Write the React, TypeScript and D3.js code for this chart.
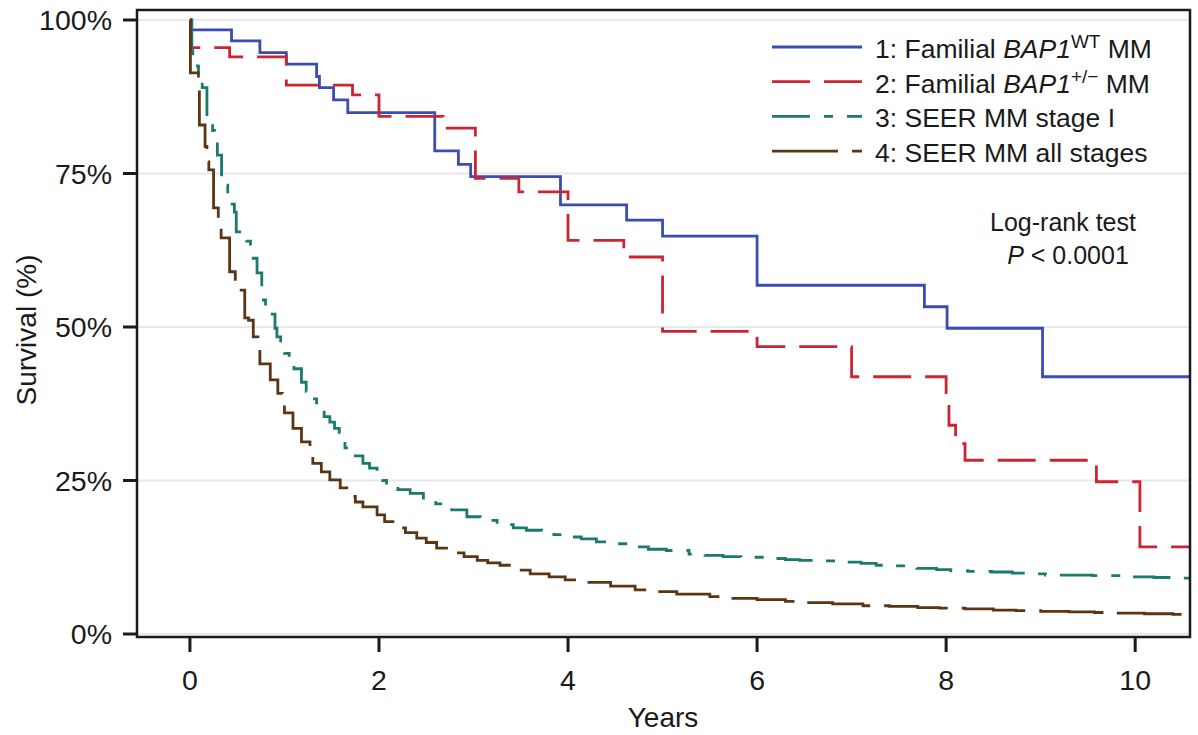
import React from "react";
import * as d3 from "d3";

const W = 1198;
const H = 735;

const xTicks = [0, 2, 4, 6, 8, 10];
const yTicks = [0, 0.25, 0.5, 0.75, 1];
const yTickLabels = ["0%", "25%", "50%", "75%", "100%"];

// [time (years), survival after the drop]
const blueEvents: [number, number][] = [
  [0.01, 0.984], [0.44, 0.966], [0.74, 0.947], [1.02, 0.928], [1.34, 0.908], [1.37, 0.89],
  [1.52, 0.87], [1.67, 0.849], [2.59, 0.787], [2.84, 0.765], [2.97, 0.745], [3.92, 0.699],
  [4.62, 0.674], [5.0, 0.648], [6.0, 0.568], [7.77, 0.533], [8.01, 0.498], [9.02, 0.419],
];

const redEvents: [number, number][] = [
  [0.01, 0.955], [0.42, 0.94], [1.02, 0.894], [1.72, 0.878], [2.0, 0.843], [2.68, 0.824],
  [3.02, 0.742], [3.48, 0.72], [4.0, 0.641], [4.59, 0.614], [5.0, 0.493], [6.0, 0.468],
  [7.0, 0.419], [8.0, 0.393], [8.03, 0.34], [8.1, 0.31], [8.2, 0.283], [9.59, 0.248],
  [10.05, 0.142],
];

const tealEvents: [number, number][] = [
  [0.02, 0.95], [0.03, 0.94], [0.08, 0.925], [0.09, 0.91], [0.13, 0.89], [0.18, 0.834],
  [0.24, 0.82], [0.26, 0.807], [0.29, 0.78], [0.335, 0.731], [0.4, 0.71], [0.42, 0.7],
  [0.47, 0.687], [0.49, 0.655], [0.6, 0.64], [0.64, 0.625], [0.67, 0.612], [0.71, 0.588],
  [0.76, 0.544], [0.8, 0.53], [0.85, 0.521], [0.9, 0.498], [0.92, 0.484], [0.96, 0.47],
  [1.0, 0.457], [1.05, 0.445], [1.1, 0.432], [1.18, 0.41], [1.23, 0.395], [1.28, 0.383],
  [1.34, 0.368], [1.42, 0.354], [1.48, 0.345], [1.53, 0.335], [1.58, 0.32], [1.64, 0.303],
  [1.75, 0.29], [1.83, 0.278], [1.9, 0.27], [1.98, 0.262], [2.04, 0.25], [2.08, 0.24],
  [2.2, 0.235], [2.33, 0.229], [2.47, 0.218], [2.6, 0.212], [2.77, 0.202], [2.93, 0.191],
  [3.07, 0.185], [3.25, 0.178], [3.42, 0.173], [3.56, 0.169], [3.72, 0.166], [3.85, 0.162],
  [4.0, 0.158], [4.14, 0.155], [4.3, 0.15], [4.52, 0.147], [4.7, 0.142], [4.85, 0.138],
  [5.04, 0.136], [5.28, 0.13], [5.45, 0.128], [5.64, 0.126], [5.83, 0.125], [6.09, 0.123],
  [6.3, 0.121], [6.45, 0.12], [6.64, 0.119], [6.93, 0.117], [7.1, 0.115], [7.26, 0.112],
  [7.45, 0.111], [7.69, 0.107], [7.9, 0.105], [8.05, 0.103], [8.23, 0.102], [8.48, 0.101],
  [8.7, 0.099], [8.86, 0.098], [9.05, 0.096], [9.55, 0.095], [9.86, 0.093], [10.2, 0.092],
  [10.45, 0.091],
];

const brownEvents: [number, number][] = [
  [0.005, 0.914], [0.09, 0.886], [0.1, 0.829], [0.16, 0.794], [0.18, 0.769], [0.2, 0.756],
  [0.25, 0.694], [0.3, 0.666], [0.33, 0.645], [0.42, 0.59], [0.48, 0.56], [0.58, 0.515],
  [0.62, 0.511], [0.67, 0.484], [0.72, 0.47], [0.74, 0.44], [0.85, 0.414], [0.93, 0.392],
  [0.98, 0.381], [1.0, 0.36], [1.09, 0.335], [1.18, 0.313], [1.27, 0.296], [1.3, 0.278],
  [1.39, 0.264], [1.48, 0.251], [1.59, 0.238], [1.66, 0.224], [1.75, 0.215], [1.83, 0.207],
  [1.98, 0.194], [2.06, 0.183], [2.17, 0.173], [2.28, 0.165], [2.4, 0.156], [2.5, 0.149],
  [2.61, 0.14], [2.75, 0.132], [2.9, 0.126], [3.04, 0.12], [3.15, 0.116], [3.28, 0.112],
  [3.4, 0.104], [3.6, 0.098], [3.8, 0.093], [3.97, 0.088], [4.2, 0.084], [4.45, 0.078],
  [4.71, 0.072], [4.9, 0.069], [5.15, 0.065], [5.5, 0.061], [5.7, 0.058], [6.0, 0.056],
  [6.3, 0.053], [6.5, 0.051], [6.8, 0.049], [7.12, 0.046], [7.4, 0.045], [7.7, 0.043],
  [7.93, 0.042], [8.2, 0.041], [8.5, 0.039], [8.74, 0.038], [9.0, 0.037], [9.3, 0.036],
  [9.57, 0.035], [9.8, 0.034], [10.1, 0.033], [10.4, 0.032],
];

const series = [
  { key: "1", events: blueEvents, color: "#3b4cb3", dash: "none" },
  { key: "2", events: redEvents, color: "#cc2433", dash: "38 14" },
  { key: "3", events: tealEvents, color: "#1a7a6c", dash: "38 14 9 14" },
  { key: "4", events: brownEvents, color: "#5c3515", dash: "66 14" },
];

const FONT = "'Liberation Sans', Arial, Helvetica, sans-serif";

export default function App() {
  const left = 137, right = 1190, top = 10, bottom = 637;
  const x = d3.scaleLinear().domain([-0.56, 10.58]).range([left, right]);
  const y = d3.scaleLinear().domain([0, 1]).range([634, 20]);
  const tEnd = 10.58;

  const line = d3
    .line<[number, number]>()
    .x((d) => x(d[0]))
    .y((d) => y(d[1]))
    .curve(d3.curveStepAfter);

  const pathFor = (ev: [number, number][]) => {
    const pts: [number, number][] = [[0, 1], ...ev, [tEnd, ev[ev.length - 1][1]]];
    return line(pts) || "";
  };

  const legendY0 = 47;
  const legendDy = 34.7;
  const LF = 26.5;

  return (
    <div style={{ position: "absolute", left: 0, top: 0 }}>
      <svg width={W} height={H} style={{ display: "block", background: "#fff" }} fontFamily={FONT}>
        <defs>
          <clipPath id="plotclip">
            <rect x={left} y={top} width={right - left} height={bottom - top} />
          </clipPath>
        </defs>
        {/* gridlines */}
        {yTicks.map((t) => (
          <line key={"g" + t} x1={left} x2={right} y1={y(t)} y2={y(t)} stroke="#e6e8ea" strokeWidth={2} />
        ))}
        {/* curves */}
        <g clipPath="url(#plotclip)">
          {series.map((s) => (
            <path
              key={s.key}
              d={pathFor(s.events)}
              fill="none"
              stroke={s.color}
              strokeWidth={2.8}
              strokeDasharray={s.dash}
            />
          ))}
        </g>
        {/* frame */}
        <rect x={left} y={top} width={right - left} height={bottom - top} fill="none" stroke="#1a1a1a" strokeWidth={2.5} />
        {/* y ticks */}
        {yTicks.map((t, i) => (
          <g key={"yt" + t}>
            <line x1={left - 14} x2={left} y1={y(t)} y2={y(t)} stroke="#1a1a1a" strokeWidth={3} />
            <text x={112} y={y(t)} dy="0.36em" textAnchor="end" fontSize={28.5} fill="#1a1a1a">
              {yTickLabels[i]}
            </text>
          </g>
        ))}
        {/* x ticks */}
        {xTicks.map((t) => (
          <g key={"xt" + t}>
            <line x1={x(t)} x2={x(t)} y1={bottom} y2={bottom + 15} stroke="#1a1a1a" strokeWidth={3} />
            <text x={x(t)} y={690} textAnchor="middle" fontSize={28.5} fill="#1a1a1a">
              {t}
            </text>
          </g>
        ))}
        {/* axis titles */}
        <text x={663} y={727} textAnchor="middle" fontSize={28} fill="#1a1a1a">
          Years
        </text>
        <text
          transform={`translate(36,330) rotate(-90)`}
          textAnchor="middle"
          fontSize={28}
          fill="#1a1a1a"
        >
          Survival (%)
        </text>
        {/* legend */}
        {series.map((s, i) => {
          const ly = legendY0 + i * legendDy;
          return (
            <line
              key={"ll" + s.key}
              x1={772}
              x2={862}
              y1={ly}
              y2={ly}
              stroke={s.color}
              strokeWidth={2.8}
              strokeDasharray={s.dash}
            />
          );
        })}
        <text x={875} y={legendY0 + 11} fontSize={LF} fill="#1a1a1a">
          1: Familial <tspan fontStyle="italic">BAP1</tspan>
          <tspan fontSize={19} dy={-10}>WT</tspan>
          <tspan dy={10}> MM</tspan>
        </text>
        <text x={875} y={legendY0 + legendDy + 11} fontSize={LF} fill="#1a1a1a">
          2: Familial <tspan fontStyle="italic">BAP1</tspan>
          <tspan fontSize={19} dy={-10}>+/−</tspan>
          <tspan dy={10}> MM</tspan>
        </text>
        <text x={875} y={legendY0 + 2 * legendDy + 11} fontSize={LF} fill="#1a1a1a">
          3: SEER MM stage I
        </text>
        <text x={875} y={legendY0 + 3 * legendDy + 11} fontSize={LF} fill="#1a1a1a">
          4: SEER MM all stages
        </text>
        {/* log-rank */}
        <text x={1063} y={231} textAnchor="middle" fontSize={25} fill="#1a1a1a">
          Log-rank test
        </text>
        <text x={1068} y={264} textAnchor="middle" fontSize={25} fill="#1a1a1a">
          <tspan fontStyle="italic">P</tspan> {"< 0.0001"}
        </text>
      </svg>
    </div>
  );
}
